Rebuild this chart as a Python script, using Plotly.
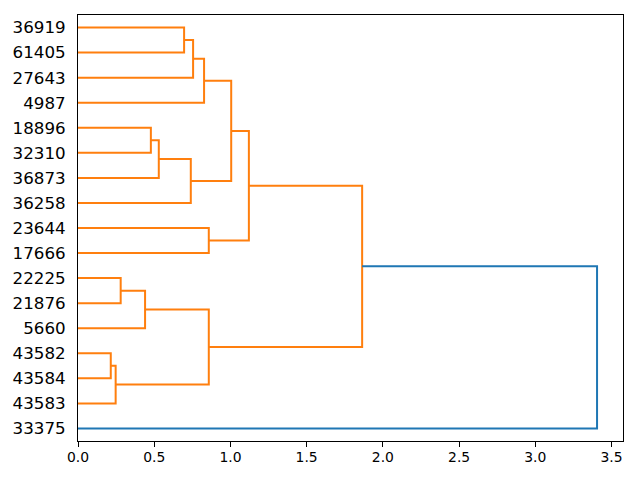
import plotly.graph_objects as go

# Leaf labels, top to bottom
leaf_labels = ["36919", "61405", "27643", "4987", "18896", "32310", "36873", "36258",
               "23644", "17666", "22225", "21876", "5660", "43582", "43584", "43583", "33375"]

# Merges (children are leaf labels or "m<i>" merge ids), with distances
merge_left = ["36919", "m0", "m1", "18896", "m3", "m4", "m2", "23644", "m6",
              "22225", "m9", "43582", "m11", "m10", "m8", "m14"]
merge_right = ["61405", "27643", "4987", "32310", "36873", "36258", "m5", "17666", "m7",
               "21876", "5660", "43584", "43583", "m12", "m13", "33375"]
merge_height = [0.696, 0.755, 0.827, 0.478, 0.530, 0.740, 1.005, 0.858, 1.121,
                0.280, 0.440, 0.215, 0.247, 0.858, 1.864, 3.405]
merge_color = ["#ff7f0e"] * 15 + ["#1f77b4"]

n = len(leaf_labels)
leaf_pos = {lab: 10 * (n - 1 - i) + 5 for i, lab in enumerate(leaf_labels)}

pos = dict(leaf_pos)
hgt = {lab: 0.0 for lab in leaf_labels}

segs = {}
for i, (a, b, h, c) in enumerate(zip(merge_left, merge_right, merge_height, merge_color)):
    ya, yb = pos[a], pos[b]
    xs = [hgt[a], h, h, hgt[b], None]
    ys = [ya, ya, yb, yb, None]
    segs.setdefault(c, ([], []))
    segs[c][0].extend(xs)
    segs[c][1].extend(ys)
    pos["m%d" % i] = (ya + yb) / 2
    hgt["m%d" % i] = h

fig = go.Figure()
for c, (xs, ys) in segs.items():
    fig.add_trace(go.Scatter(x=xs, y=ys, mode="lines",
                             line=dict(color=c, width=2), hoverinfo="skip",
                             showlegend=False))

xmax = max(merge_height) * 1.05
fig.update_layout(
    width=640, height=480,
    margin=dict(l=70, r=25, t=7, b=47, pad=0),
    paper_bgcolor="white", plot_bgcolor="white",
    font=dict(family="DejaVu Sans", color="black"),
    xaxis=dict(range=[0, xmax], tickvals=[0, 0.5, 1, 1.5, 2, 2.5, 3, 3.5],
               tickformat=".1f", ticks="outside", ticklen=5, tickwidth=1,
               tickcolor="black", showgrid=False, zeroline=False,
               showline=True, linecolor="black", linewidth=1, mirror=True,
               tickfont=dict(size=13.9), automargin=False, ticklabelstandoff=-2),
    yaxis=dict(range=[0, 10 * n], tickvals=[leaf_pos[l] for l in leaf_labels],
               ticktext=leaf_labels, ticks="outside", ticklen=8,
               tickcolor="rgba(0,0,0,0)", showgrid=False, zeroline=False,
               showline=True, linecolor="black", linewidth=1, mirror=True,
               tickfont=dict(size=16.7), automargin=False),
)

fig.write_html("out.html")
